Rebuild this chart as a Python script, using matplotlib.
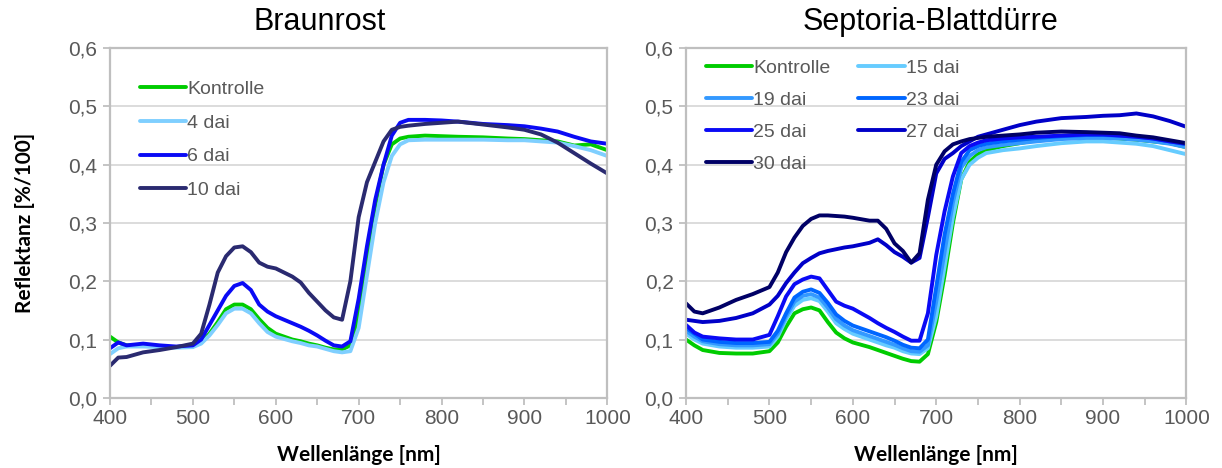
import matplotlib
matplotlib.use("Agg")
import matplotlib.pyplot as plt
from matplotlib.ticker import MultipleLocator, FuncFormatter

# wavelengths shared by all spectra
wl = [400, 410, 420, 440, 460, 480, 500, 510, 520, 530, 540, 550, 560, 570, 580, 590,
      600, 620, 630, 640, 650, 660, 670, 680, 690, 700, 710, 720, 730, 740, 750, 760,
      780, 800, 820, 850, 880, 900, 920, 940, 960, 980, 1000]

# Braunrost
br_labels = ["Kontrolle", "4 dai", "6 dai", "10 dai"]
br_colors = ["#00CC00", "#7FCFFF", "#0A0AF5", "#2A2A70"]
br_kontrolle = [0.105, 0.095, 0.090, 0.090, 0.088, 0.087, 0.088, 0.095, 0.110, 0.130, 0.152, 0.160,
                0.160, 0.152, 0.135, 0.120, 0.110, 0.100, 0.097, 0.093, 0.090, 0.086, 0.083, 0.083,
                0.090, 0.140, 0.240, 0.330, 0.400, 0.435, 0.445, 0.448, 0.450, 0.449, 0.448, 0.447,
                0.445, 0.444, 0.442, 0.440, 0.433, 0.435, 0.425]
br_4dai = [0.075, 0.085, 0.088, 0.088, 0.087, 0.086, 0.087, 0.093, 0.107, 0.125, 0.145, 0.153,
           0.153, 0.145, 0.128, 0.113, 0.105, 0.097, 0.094, 0.090, 0.088, 0.084, 0.080, 0.078,
           0.080, 0.120, 0.210, 0.300, 0.370, 0.415, 0.435, 0.442, 0.443, 0.443, 0.443, 0.443,
           0.442, 0.442, 0.440, 0.438, 0.432, 0.425, 0.415]
br_6dai = [0.085, 0.095, 0.090, 0.093, 0.090, 0.088, 0.090, 0.100, 0.125, 0.150, 0.175, 0.192,
           0.197, 0.185, 0.160, 0.148, 0.140, 0.128, 0.122, 0.115, 0.107, 0.098, 0.090, 0.088,
           0.097, 0.170, 0.260, 0.340, 0.400, 0.450, 0.472, 0.477, 0.477, 0.476, 0.474, 0.470,
           0.468, 0.466, 0.462, 0.457, 0.448, 0.440, 0.436]
br_10dai = [0.055, 0.069, 0.070, 0.078, 0.082, 0.087, 0.093, 0.110, 0.160, 0.215, 0.243, 0.258,
            0.260, 0.250, 0.232, 0.225, 0.222, 0.208, 0.198, 0.180, 0.165, 0.150, 0.138, 0.134,
            0.200, 0.310, 0.370, 0.405, 0.440, 0.460, 0.465, 0.467, 0.470, 0.472, 0.474, 0.469,
            0.464, 0.460, 0.452, 0.438, 0.420, 0.402, 0.385]

# Septoria-Blattdürre
se_labels = ["Kontrolle", "15 dai", "19 dai", "23 dai", "25 dai", "27 dai", "30 dai"]
se_colors = ["#00CC00", "#66CCFF", "#3399FF", "#0066FF", "#0A0AF5", "#0000C8", "#000066"]
se_kontrolle = [0.100, 0.090, 0.082, 0.077, 0.076, 0.076, 0.080, 0.095, 0.122, 0.145, 0.152, 0.155,
                0.150, 0.130, 0.112, 0.102, 0.095, 0.087, 0.082, 0.077, 0.072, 0.067, 0.063, 0.062,
                0.075, 0.130, 0.210, 0.300, 0.375, 0.405, 0.418, 0.425, 0.432, 0.437, 0.442, 0.446,
                0.447, 0.447, 0.445, 0.443, 0.440, 0.437, 0.430]
se_15dai = [0.110, 0.100, 0.093, 0.088, 0.086, 0.086, 0.088, 0.105, 0.135, 0.158, 0.168, 0.171,
            0.166, 0.148, 0.128, 0.118, 0.110, 0.100, 0.095, 0.090, 0.086, 0.080, 0.076, 0.075,
            0.085, 0.140, 0.225, 0.310, 0.375, 0.400, 0.412, 0.420, 0.425, 0.428, 0.432, 0.437,
            0.440, 0.440, 0.438, 0.436, 0.432, 0.425, 0.418]
se_19dai = [0.115, 0.105, 0.097, 0.092, 0.090, 0.090, 0.092, 0.110, 0.140, 0.165, 0.175, 0.178,
            0.172, 0.155, 0.135, 0.124, 0.116, 0.106, 0.101, 0.096, 0.091, 0.085, 0.080, 0.079,
            0.090, 0.165, 0.250, 0.335, 0.395, 0.415, 0.425, 0.430, 0.434, 0.437, 0.440, 0.444,
            0.446, 0.446, 0.445, 0.443, 0.440, 0.436, 0.430]
se_23dai = [0.120, 0.110, 0.100, 0.096, 0.094, 0.094, 0.096, 0.115, 0.145, 0.172, 0.182, 0.186,
            0.180, 0.163, 0.143, 0.132, 0.124, 0.114, 0.109, 0.104, 0.098, 0.091, 0.086, 0.085,
            0.100, 0.190, 0.280, 0.350, 0.405, 0.425, 0.432, 0.436, 0.440, 0.443, 0.446, 0.449,
            0.451, 0.451, 0.450, 0.448, 0.445, 0.440, 0.435]
se_25dai = [0.125, 0.112, 0.105, 0.102, 0.100, 0.100, 0.108, 0.140, 0.174, 0.195, 0.203, 0.208,
            0.205, 0.185, 0.165, 0.158, 0.153, 0.137, 0.128, 0.120, 0.113, 0.105, 0.098, 0.098,
            0.145, 0.245, 0.320, 0.380, 0.420, 0.432, 0.438, 0.442, 0.445, 0.447, 0.448, 0.450,
            0.452, 0.452, 0.450, 0.448, 0.445, 0.440, 0.436]
se_27dai = [0.134, 0.132, 0.130, 0.132, 0.137, 0.145, 0.160, 0.175, 0.197, 0.215, 0.231, 0.240,
            0.248, 0.252, 0.255, 0.258, 0.260, 0.266, 0.272, 0.262, 0.250, 0.242, 0.232, 0.240,
            0.310, 0.385, 0.410, 0.420, 0.432, 0.440, 0.448, 0.452, 0.460, 0.468, 0.474, 0.480,
            0.482, 0.484, 0.485, 0.488, 0.483, 0.475, 0.465]
se_30dai = [0.162, 0.148, 0.145, 0.155, 0.168, 0.178, 0.190, 0.215, 0.250, 0.275, 0.295, 0.307,
            0.313, 0.313, 0.312, 0.311, 0.309, 0.304, 0.304, 0.290, 0.265, 0.252, 0.232, 0.248,
            0.340, 0.400, 0.423, 0.435, 0.440, 0.444, 0.446, 0.448, 0.450, 0.452, 0.455, 0.457,
            0.456, 0.455, 0.454, 0.450, 0.447, 0.442, 0.437]

plt.rcParams['font.family'] = ['Liberation Sans', 'DejaVu Sans']

fig = plt.figure(figsize=(12.22, 4.68), dpi=100)
ax1 = fig.add_axes([0.090, 0.150, 0.407, 0.747])
ax2 = fig.add_axes([0.5614, 0.150, 0.4095, 0.747])

comma = FuncFormatter(lambda v, p: f"{v:.1f}".replace(".", ","))


def style(ax):
    ax.set_xlim(400, 1000)
    ax.set_ylim(0, 0.6)
    ax.xaxis.set_major_locator(MultipleLocator(100))
    ax.xaxis.set_minor_locator(MultipleLocator(50))
    ax.yaxis.set_major_locator(MultipleLocator(0.1))
    ax.yaxis.set_major_formatter(comma)
    ax.grid(axis='y', color='#D9D9D9', lw=1.3)
    ax.set_axisbelow(True)
    for s in ax.spines.values():
        s.set_color('#BFBFBF')
        s.set_linewidth(1.6)
    ax.tick_params(axis='both', which='both', direction='out', color='#BFBFBF',
                   width=1.3, labelsize=15, labelcolor='#595959')
    ax.tick_params(axis='x', which='both', length=5)
    ax.tick_params(axis='x', which='major', pad=3)
    ax.tick_params(axis='y', length=5, pad=4)
    ax.set_xlabel("Wellenlänge [nm]", fontsize=15, fontweight='bold',
                  family=['Lato', 'DejaVu Sans'], labelpad=12)


for y, lab, col in zip([br_kontrolle, br_4dai, br_6dai, br_10dai], br_labels, br_colors):
    ax1.plot(wl, y, color=col, lw=2.8, label=lab, solid_capstyle='round')
style(ax1)
fig.text(320 / 1222, 1 - 22 / 468, "Braunrost", fontsize=22, ha='center', va='center')
ax1.set_ylabel("Reflektanz [%/100]", fontsize=15, fontweight='bold',
               family=['Lato', 'DejaVu Sans'], labelpad=24)
ax1.legend(loc='upper left', bbox_to_anchor=(0.04, 0.935), frameon=False, fontsize=14,
           handlelength=2.4, handletextpad=0.05, labelspacing=0.82, borderpad=0,
           labelcolor='#595959')

se_series = [se_kontrolle, se_15dai, se_19dai, se_23dai, se_25dai, se_27dai, se_30dai]
lines = {}
for y, lab, col in zip(se_series, se_labels, se_colors):
    lines[lab], = ax2.plot(wl, y, color=col, lw=2.8, label=lab, solid_capstyle='round')
style(ax2)
fig.text(930 / 1222, 1 - 22 / 468, "Septoria-Blattdürre", fontsize=22, ha='center', va='center')
order = ["Kontrolle", "19 dai", "25 dai", "30 dai", "15 dai", "23 dai", "27 dai"]
ax2.legend([lines[k] for k in order], order, loc='upper left', bbox_to_anchor=(0.02, 0.995),
           ncol=2, frameon=False, fontsize=14, handlelength=2.4, handletextpad=0.05,
           labelspacing=0.74, columnspacing=1.4, borderpad=0, labelcolor='#595959')

fig.savefig("out.png", dpi=100)
